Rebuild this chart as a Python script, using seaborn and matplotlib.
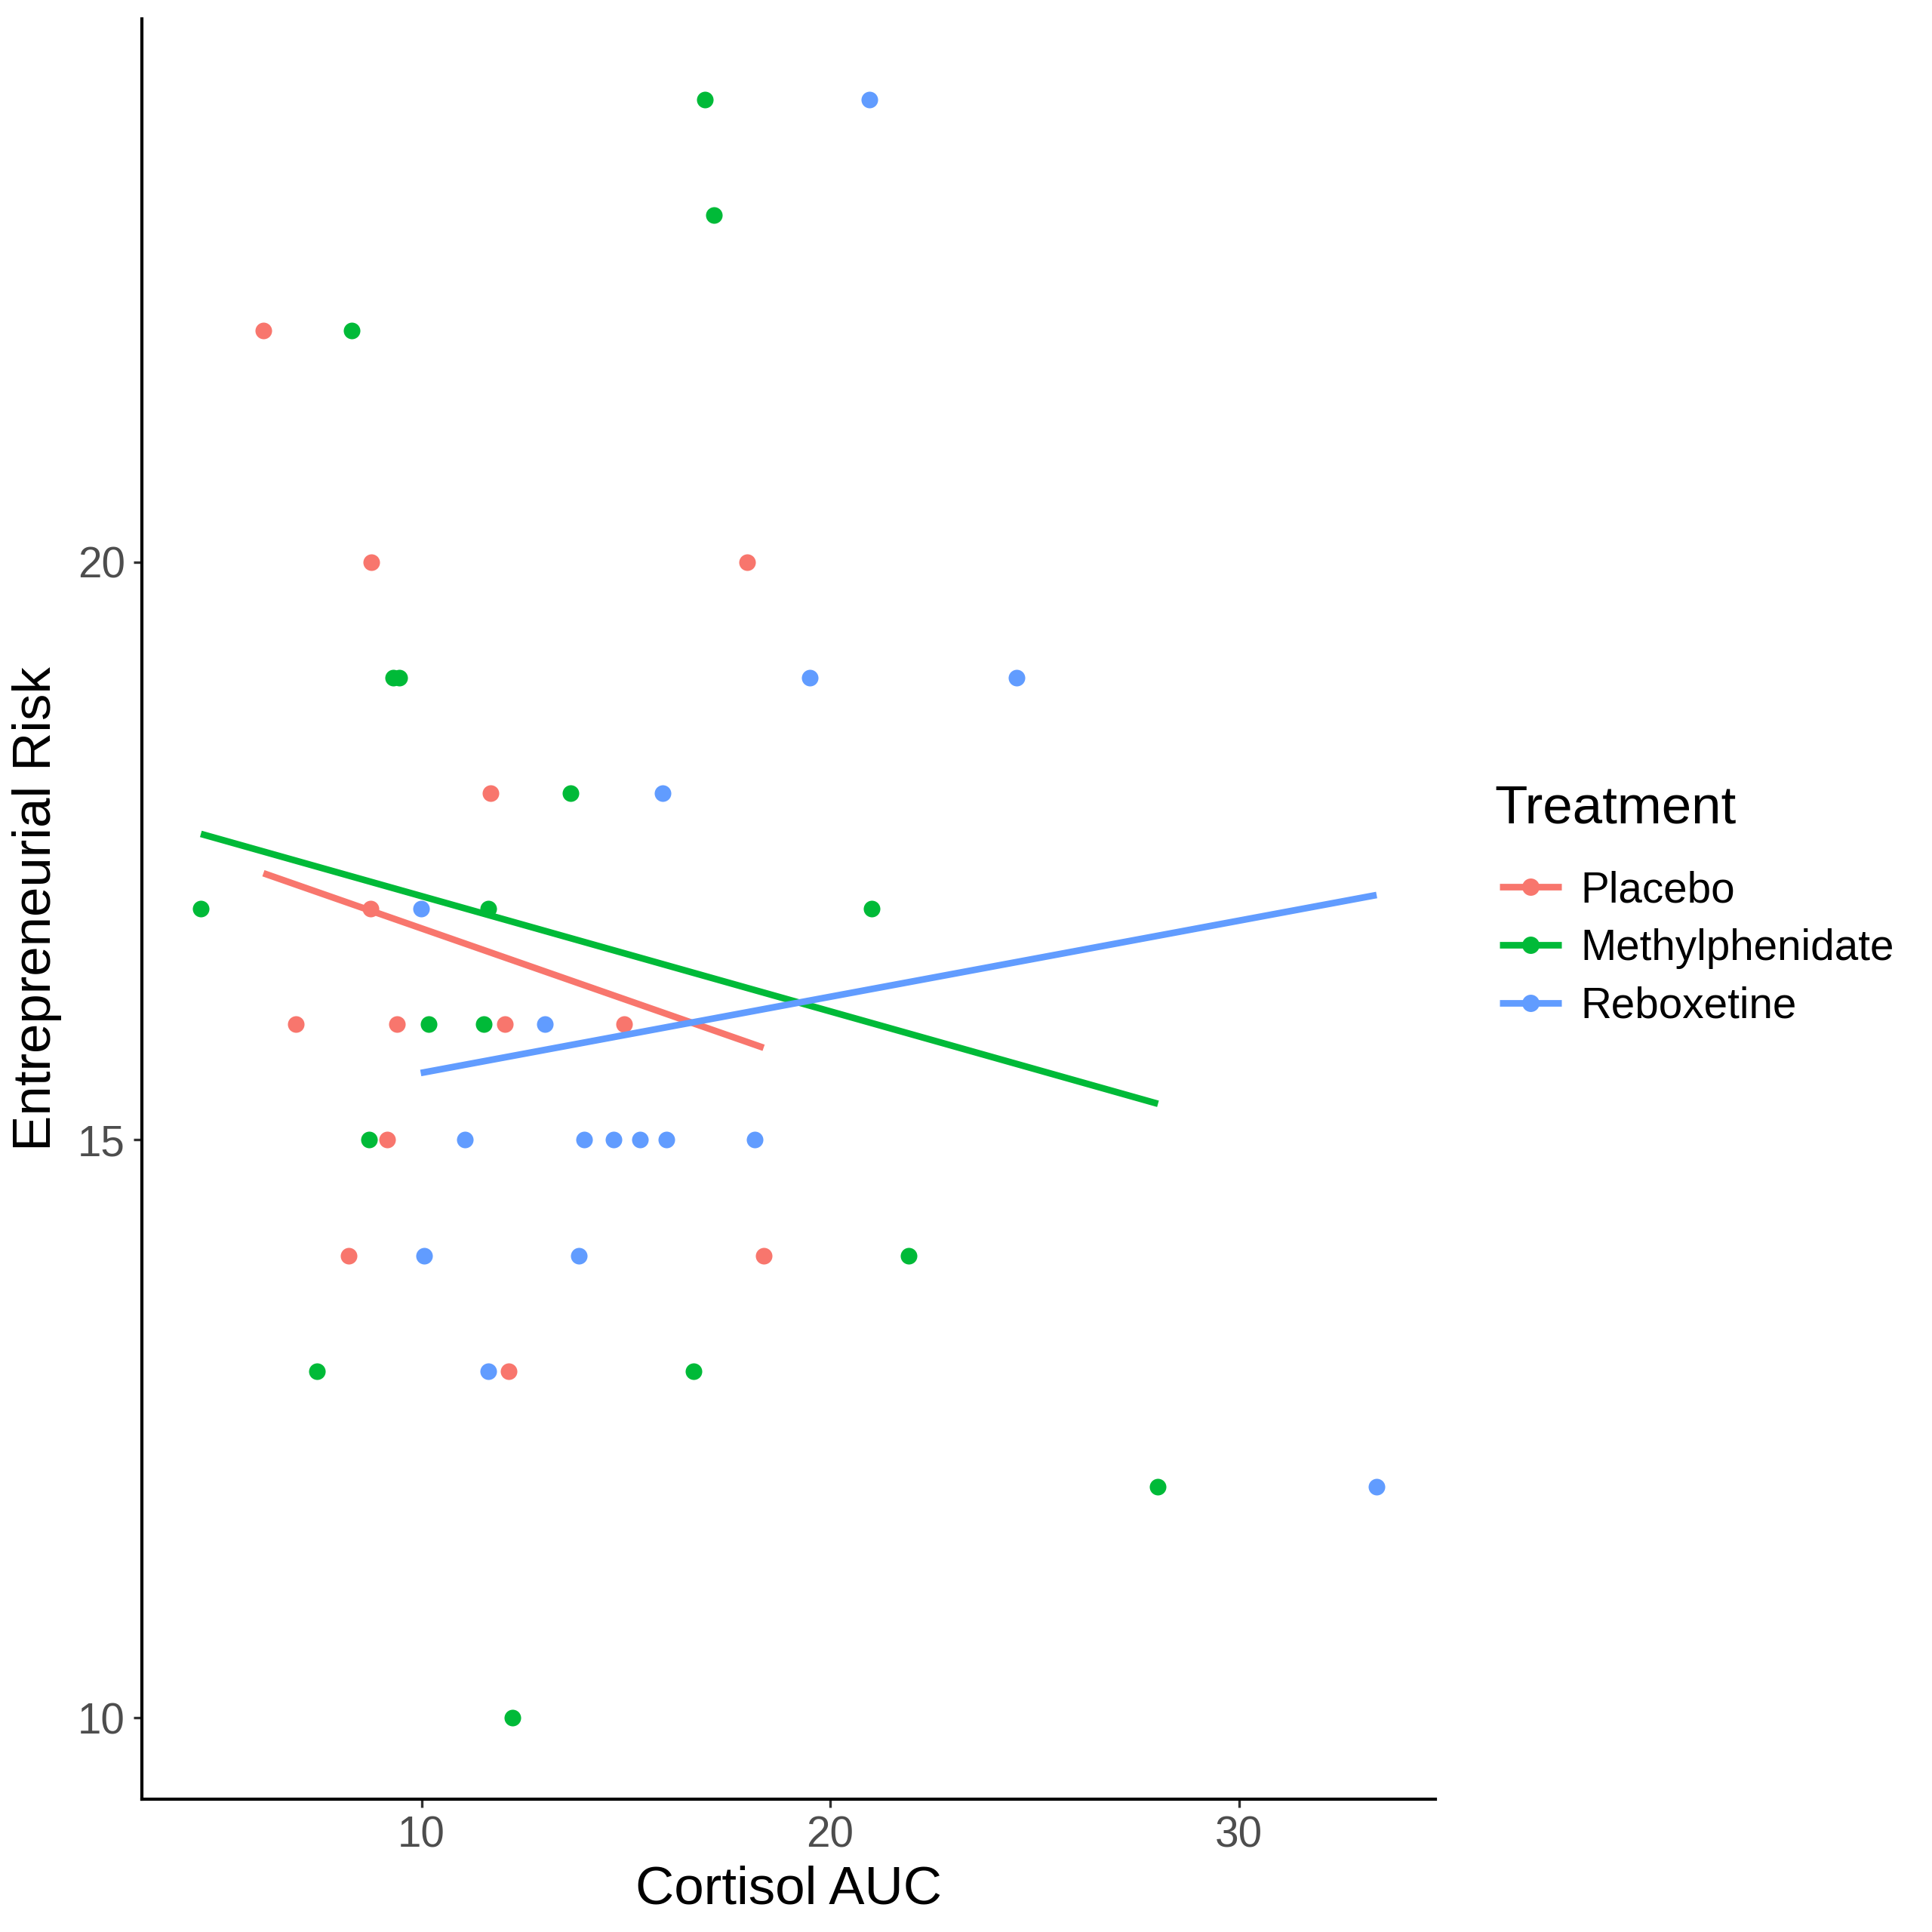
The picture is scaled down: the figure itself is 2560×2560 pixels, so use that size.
import matplotlib
matplotlib.use("Agg")
import matplotlib.pyplot as plt
from matplotlib.lines import Line2D
import seaborn as sns
import pandas as pd

# ---- data ----
treatments = ["Placebo", "Methylphenidate", "Reboxetine"]
colors = ["#F8766D", "#00BA38", "#619CFF"]

placebo_x = [6.13, 8.77, 17.97, 11.68, 8.76, 6.92, 9.39, 12.04, 14.95, 9.15, 8.21, 18.37, 12.13]
placebo_y = [22, 20, 20, 18, 17, 16, 16, 16, 16, 15, 14, 14, 13]

methyl_x = [16.93, 17.15, 8.29, 9.31, 9.46, 13.64, 4.60, 11.63, 21.01, 10.18, 11.52, 8.71, 21.91, 7.44, 16.66, 28.02, 12.23]
methyl_y = [24, 23, 22, 19, 19, 18, 17, 17, 17, 16, 16, 15, 14, 13, 13, 12, 10]

rebox_x = [20.95, 19.50, 24.56, 15.89, 9.98, 13.02, 11.06, 13.97, 14.69, 15.35, 15.99, 18.16, 10.06, 13.85, 11.63, 33.37]
rebox_y = [24, 19, 19, 18, 17, 16, 15, 15, 15, 15, 15, 15, 14, 14, 13, 12]

x_ticks = [10, 20, 30]
y_ticks = [10, 15, 20]

df = pd.concat([
    pd.DataFrame({"Cortisol AUC": placebo_x, "Entrepreneurial Risk": placebo_y, "Treatment": "Placebo"}),
    pd.DataFrame({"Cortisol AUC": methyl_x, "Entrepreneurial Risk": methyl_y, "Treatment": "Methylphenidate"}),
    pd.DataFrame({"Cortisol AUC": rebox_x, "Entrepreneurial Risk": rebox_y, "Treatment": "Reboxetine"}),
], ignore_index=True)

sns.set_style("white")
plt.rcParams["font.family"] = ["Liberation Sans", "DejaVu Sans"]
plt.rcParams["text.color"] = "black"
plt.rcParams["axes.labelcolor"] = "black"

fig = plt.figure(figsize=(2560 / 300, 2560 / 300), dpi=300)
ax = fig.add_axes([0.0733, 0.0689, 0.6697, 0.9215])

LW = 2.1
for t, c in zip(treatments, colors):
    sub = df[df["Treatment"] == t]
    sns.regplot(data=sub, x="Cortisol AUC", y="Entrepreneurial Risk", ax=ax, ci=None,
                color=c, truncate=True,
                scatter_kws=dict(s=28, linewidths=0, alpha=1, zorder=3),
                line_kws=dict(linewidth=LW, zorder=4, solid_capstyle="butt"))

ax.set_xlim(3.15, 34.81)
ax.set_ylim(9.3, 24.7)
ax.set_xticks(x_ticks)
ax.set_yticks(y_ticks)
ax.set_xticklabels([str(v) for v in x_ticks])
ax.set_yticklabels([str(v) for v in y_ticks])

for side in ["top", "right"]:
    ax.spines[side].set_visible(False)
for side in ["left", "bottom"]:
    ax.spines[side].set_color("black")
    ax.spines[side].set_linewidth(1.0)

ax.tick_params(axis="both", which="major", length=2.7, width=0.8, color="#333333",
               labelcolor="#4D4D4D", labelsize=13.6, pad=2.5, direction="out",
               bottom=True, left=True)

ax.set_xlabel("Cortisol AUC", fontsize=17, color="black", labelpad=3)
ax.set_ylabel("Entrepreneurial Risk", fontsize=17, color="black", labelpad=5)
ax.grid(False)

handles = [Line2D([0], [0], color=c, linewidth=LW, marker="o", markersize=5.5,
                  markeredgewidth=0, solid_capstyle="butt") for c in colors]
leg = fig.legend(handles, treatments, loc="center left",
                 bbox_to_anchor=(0.765, 0.509), frameon=False, fontsize=13.6,
                 handlelength=1.45, handletextpad=0.45,
                 labelspacing=0.40, borderpad=0)
for txt in leg.get_texts():
    txt.set_color("black")
fig.text(0.7736, 1 - 657 / 1568, "Treatment", fontsize=17, color="black",
         ha="left", va="center")

fig.savefig("out.png", dpi=300, facecolor="white")
